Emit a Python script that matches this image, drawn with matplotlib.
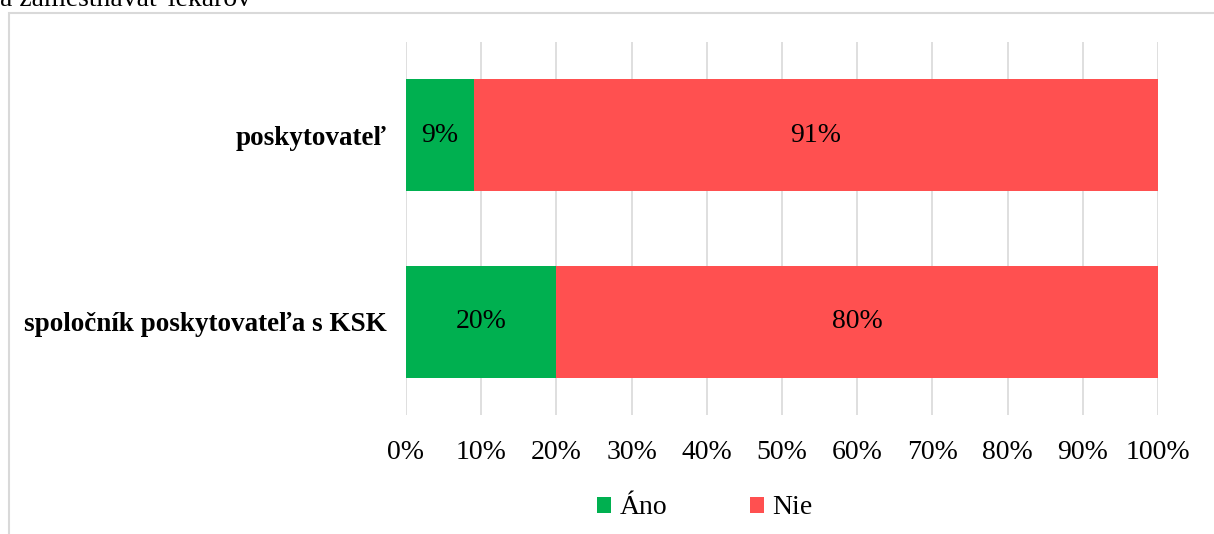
import numpy as np
from matplotlib import pyplot as plt
import matplotlib.patches as patches
from matplotlib.ticker import PercentFormatter

# data
categories = ['spoločník poskytovateľa s KSK', 'poskytovateľ']
ano = [20, 9]
nie = [80, 91]
series_names = ['Áno', 'Nie']
colors = ['#00b050', '#ff5050']

plt.rcParams['font.family'] = ['Liberation Serif', 'DejaVu Serif']

fig = plt.figure(figsize=(12.14, 5.34), dpi=100)

# outer frame of the embedded chart (cut off at right/bottom)
fig.add_artist(patches.Rectangle((8.5 / 1214, -0.05), 1.2, (534 - 12.5) / 534 + 0.05,
                                 transform=fig.transFigure, fill=False,
                                 edgecolor='#d9d9d9', linewidth=1.5))
# remains of the caption above
fig.text(0.0, 1 - 6 / 534, 'a zamestnávať lekárov', fontsize=20, va='baseline', ha='left')

ax = fig.add_axes([406 / 1214, 1 - 415 / 534, (1158 - 406) / 1214, (415 - 42) / 534])

y = np.arange(len(categories))
b1 = ax.barh(y, ano, height=0.6, color=colors[0], label=series_names[0], zorder=3)
b2 = ax.barh(y, nie, left=ano, height=0.6, color=colors[1], label=series_names[1], zorder=3)

for bars, vals in ((b1, ano), (b2, nie)):
    ax.bar_label(bars, labels=['%d%%' % v for v in vals], label_type='center', fontsize=20)

ax.set_xlim(0, 100)
ax.set_ylim(-0.5, 1.5)
ax.set_xticks(np.arange(0, 101, 10))
ax.xaxis.set_major_formatter(PercentFormatter(decimals=0))
ax.set_yticks(y)
ax.set_yticklabels(categories, fontweight='bold', fontsize=19.5)
ax.tick_params(axis='x', length=0, labelsize=20, pad=18)
ax.tick_params(axis='y', length=0, pad=14)
ax.grid(axis='x', color='#d9d9d9', linewidth=1.2, zorder=0)
for s in ax.spines.values():
    s.set_visible(False)

fig.legend(handles=[b1, b2], loc='center', bbox_to_anchor=(705 / 1214, 1 - 508 / 534),
           ncol=2, frameon=False, fontsize=20, handlelength=0.5, handleheight=0.5,
           handletextpad=0.3, columnspacing=3.0)

fig.savefig('out.png', dpi=100)
